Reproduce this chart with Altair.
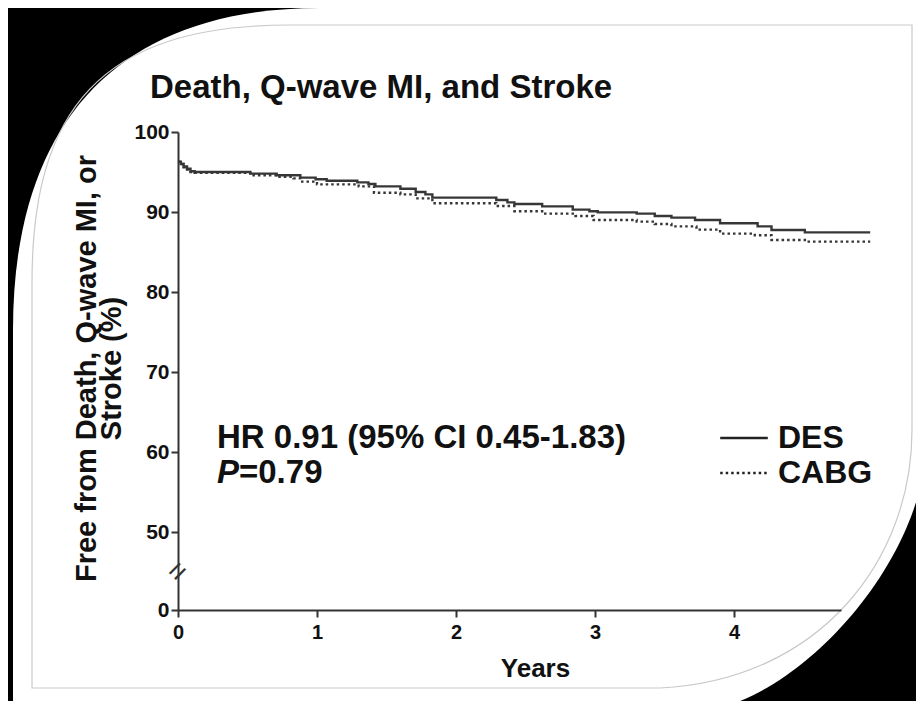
import altair as alt
import pandas as pd

# ---------------- data ----------------
chart_title = "Death, Q-wave MI, and Stroke"
groups = ["DES", "CABG"]

des_years = [0.00, 0.02, 0.04, 0.065, 0.09, 0.12, 0.52, 0.71, 0.88, 0.99, 1.07, 1.29, 1.37, 1.42,
             1.60, 1.71, 1.78, 1.83, 2.29, 2.37, 2.42, 2.62, 2.84, 2.96, 3.02, 3.30, 3.43, 3.55,
             3.72, 3.90, 4.17, 4.27, 4.51, 4.98]
des_surv = [96.3, 96.0, 95.7, 95.4, 95.1, 95.0, 94.8, 94.6, 94.3, 94.1, 93.9, 93.7, 93.5, 93.2,
            92.9, 92.5, 92.2, 91.8, 91.5, 91.2, 91.0, 90.7, 90.3, 90.1, 89.95, 89.8, 89.5, 89.3,
            89.0, 88.6, 88.2, 87.75, 87.45, 87.45]

cabg_years = [0.00, 0.02, 0.04, 0.065, 0.09, 0.12, 0.52, 0.71, 0.83, 0.88, 1.00, 1.30, 1.41, 1.60,
              1.71, 1.83, 2.29, 2.42, 2.62, 2.86, 2.99, 3.30, 3.43, 3.55, 3.73, 3.90, 4.15, 4.27,
              4.51, 4.98]
cabg_surv = [96.3, 96.0, 95.6, 95.3, 95.0, 94.9, 94.6, 94.4, 94.2, 93.8, 93.45, 93.2, 92.4, 92.2,
             91.7, 91.1, 90.75, 90.1, 89.8, 89.5, 89.0, 88.8, 88.5, 88.2, 87.8, 87.3, 87.1, 86.5,
             86.3, 86.3]

y_ticks = [0, 50, 60, 70, 80, 90, 100]
x_ticks = [0, 1, 2, 3, 4]
y_title = ["Free from Death, Q-wave MI, or", "Stroke (%)"]
x_title = "Years"
hr_text = "HR 0.91 (95% CI 0.45-1.83)"
p_label = "P"
p_value = "=0.79"

rows = [{"group": "DES", "years": t, "surv": s} for t, s in zip(des_years, des_surv)]
rows += [{"group": "CABG", "years": t, "surv": s} for t, s in zip(cabg_years, cabg_surv)]
df = pd.DataFrame(rows)

# ---------------- layout ----------------
FONT = "Liberation Sans"
INK = "#111111"
W, H = 663, 478

# decorative slide shapes (page pixel coordinates, symbol scale = 1)
slide_shape = ("M 320 8 L 924 8 L 924 470 C 905 580 800 690 715 709 L 13 709 "
               "L 13 330 C 13 120 120 8 320 8 Z")
frame_shape = ("M 290 25 L 912 25 L 912 430 C 912 560 820 680 660 688 L 32 688 "
               "L 32 283 C 32 110 100 25 290 25 Z")

one = alt.Data(values=[{"k": 1}])

slide = alt.Chart(one).mark_point(
    shape=slide_shape, size=4, filled=True, fill="white", stroke=None, opacity=1
).encode(x=alt.value(-178), y=alt.value(-132))

frame = alt.Chart(one).mark_point(
    shape=frame_shape, size=4, filled=False, stroke="#c9c9c9", strokeWidth=1.2, opacity=1
).encode(x=alt.value(-178), y=alt.value(-132))

x_scale = alt.Scale(domain=[0, 4.77], nice=False, zero=False)
y_scale = alt.Scale(domain=[0, 45, 100], range=[H, 440, 0], nice=False, zero=False)

lines = alt.Chart(df).mark_line(interpolate="step-after", color="#363636", strokeWidth=2.4).encode(
    x=alt.X("years:Q", scale=x_scale,
            axis=alt.Axis(values=x_ticks, title=x_title, format="d",
                          titleFont=FONT, titleFontSize=26, titleFontWeight="bold", titleColor=INK,
                          titleX=357, titleY=66, titleBaseline="alphabetic", titleAlign="center",
                          labelFont=FONT, labelFontSize=20, labelFontWeight="bold", labelColor=INK,
                          labelPadding=5, labelFlush=False,
                          tickSize=7, tickWidth=2, tickColor="#333333",
                          domainColor="#333333", domainWidth=2, grid=False, zindex=1)),
    y=alt.Y("surv:Q", scale=y_scale,
            axis=alt.Axis(values=y_ticks, title=y_title,
                          titleFont=FONT, titleFontSize=29, titleFontWeight="bold", titleColor=INK,
                          titleLineHeight=25.5, titleAngle=270, titleAlign="center",
                          titleBaseline="top", titleX=-106, titleY=236,
                          labelFont=FONT, labelFontSize=21, labelFontWeight="bold", labelColor=INK,
                          labelPadding=2,
                          tickSize=7, tickWidth=2, tickColor="#333333",
                          domainColor="#333333", domainWidth=2, grid=False, zindex=1)),
    strokeDash=alt.StrokeDash(
        "group:N",
        scale=alt.Scale(domain=groups, range=[[1, 0], [2.5, 3]]),
        legend=alt.Legend(title=None, orient="none", legendX=550, legendY=290,
                          symbolType="M -1.7 0 L 1.7 0", symbolSize=784, symbolStrokeWidth=2.5,
                          symbolStrokeColor="#222222",
                          labelFont=FONT, labelFontSize=32, labelFontWeight="bold",
                          labelColor=INK, labelOffset=18, rowPadding=3, padding=0, zindex=1),
    ),
    order="years:Q",
)

title = alt.Chart(alt.Data(values=[{"t": chart_title}])).mark_text(
    align="left", baseline="alphabetic", font=FONT, fontSize=33, fontWeight="bold", color=INK
).encode(x=alt.value(-28), y=alt.value(-34), text="t:N")

hr = alt.Chart(alt.Data(values=[{"t": hr_text}])).mark_text(
    align="left", baseline="alphabetic", font=FONT, fontSize=33, fontWeight="bold", color=INK
).encode(x=alt.value(39), y=alt.value(316), text="t:N")

p_it = alt.Chart(alt.Data(values=[{"t": p_label}])).mark_text(
    align="left", baseline="alphabetic", font=FONT, fontSize=33, fontWeight="bold",
    fontStyle="italic", color=INK
).encode(x=alt.value(39), y=alt.value(351), text="t:N")

p_val = alt.Chart(alt.Data(values=[{"t": p_value}])).mark_text(
    align="left", baseline="alphabetic", font=FONT, fontSize=33, fontWeight="bold", color=INK
).encode(x=alt.value(61), y=alt.value(351), text="t:N")

brk = alt.Chart(one).mark_text(
    text="=", angle=315, fontSize=30, font=FONT, color="#333333", align="center", baseline="middle"
).encode(x=alt.value(0), y=alt.value(440))

chart = alt.layer(slide, frame, lines, title, hr, p_it, p_val, brk).properties(
    width=W, height=H,
    autosize=alt.AutoSizeParams(type="none"),
    padding={"left": 170, "top": 124, "right": 75, "bottom": 91},
    background="black",
).configure_view(stroke=None, fill=None)

chart.save("out.html", embed_options={"renderer": "svg", "actions": False})
